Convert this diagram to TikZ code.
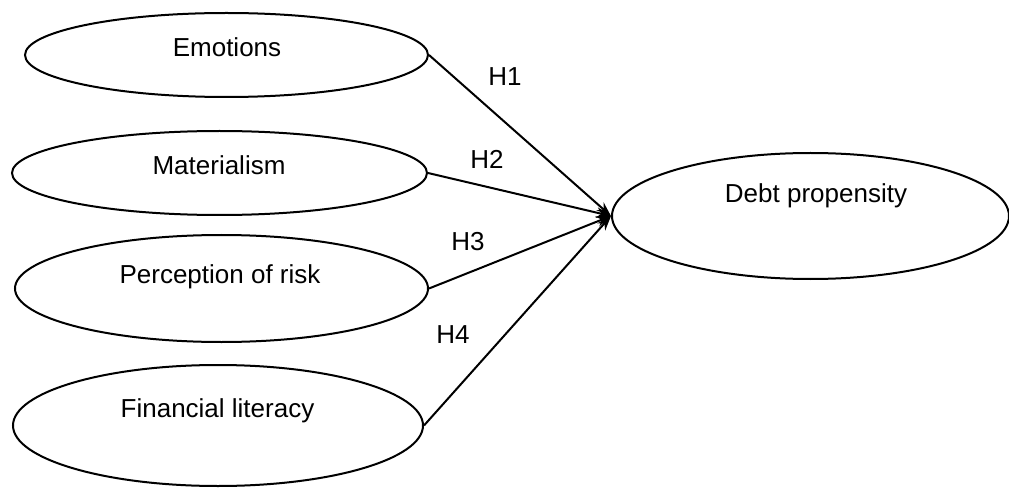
\documentclass[tikz,border=0pt]{standalone}
\usepackage{fontspec}
\setmainfont{Liberation Sans}
\usetikzlibrary{shapes.geometric,arrows.meta}

\tikzset{
    construct/.style={draw, ellipse, line width=1.5pt, inner sep=0pt},
    name text/.style={anchor=base, font=\fontsize{19.5}{23}\selectfont},
    path/.style={line width=1.5pt, -{Stealth[length=11pt, width=8pt]}},
}

\begin{document}
\begin{tikzpicture}[x=0.75pt, y=-0.75pt]
    \useasboundingbox (0,0) rectangle (1009,488);
    % constructs
    \node[construct, minimum width=403*0.75pt, minimum height=84*0.75pt] (emo) at (226.5,55) {};
    \node[construct, minimum width=415*0.75pt, minimum height=84*0.75pt] (mat) at (219.5,173) {};
    \node[construct, minimum width=413*0.75pt, minimum height=107*0.75pt] (risk) at (221.5,288.5) {};
    \node[construct, minimum width=410*0.75pt, minimum height=121*0.75pt] (lit) at (218,425.5) {};
    \node[construct, minimum width=397*0.75pt, minimum height=126*0.75pt] (debt) at (810.5,216) {};
    \node[name text] (emo-t) at (227,57) {Emotions};
    \node[name text] (mat-t) at (219,175) {Materialism};
    \node[name text] (risk-t) at (220,283) {Perception of risk};
    \node[name text] (lit-t) at (217.5,417) {Financial literacy};
    \node[name text] (debt-t) at (816,203) {Debt propensity};
    % hypotheses
    \draw[path] (emo.east) -- (debt.west);
    \draw[path] (mat.east) -- (debt.west);
    \draw[path] (risk.east) -- (debt.west);
    \draw[path] (lit.east) -- (debt.west);
    \node[name text] (h1) at (505,86) {H1};
    \node[name text] (h2) at (487,169) {H2};
    \node[name text] (h3) at (468,251) {H3};
    \node[name text] (h4) at (453,343) {H4};
\end{tikzpicture}
\end{document}
